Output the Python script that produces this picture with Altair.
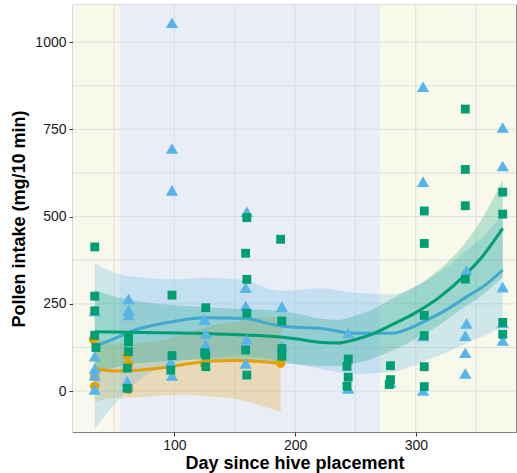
import altair as alt
import pandas as pd

# ---- observations: day since hive placement, pollen intake (mg/10 min) ----
orange_day = [33, 34, 34, 61, 62, 62, 97, 125, 188]
orange_val = [148, 42, 14, 103, 77, 5, 70, 77, 80]

green_day = [34, 34, 34, 34, 35, 62, 62, 62, 61, 61, 98, 98, 97, 126, 125, 126, 126,
             160, 159, 160, 160, 159, 160, 188, 189, 189, 189, 244, 243, 244, 243,
             279, 279, 278, 307, 307, 307, 307, 307, 307, 341, 341, 341, 341,
             372, 372, 372, 372]
green_val = [413, 272, 230, 160, 125, 159, 141, 113, 66, 8, 275, 102, 60, 239, 110, 103, 70,
             497, 395, 320, 223, 118, 46, 435, 201, 122, 100, 92, 71, 40, 14,
             73, 33, 19, 516, 423, 217, 159, 70, 13, 808, 635, 531, 321,
             570, 507, 197, 163]

blue_day = [34, 34, 34, 34, 34, 62, 62, 62, 61, 61, 98, 98, 98, 97, 98, 125, 126, 126,
            160, 159, 159, 160, 159, 189, 189, 244, 244, 279, 306, 306, 306, 306,
            342, 342, 341, 341, 341, 372, 372, 372, 372, 372]
blue_val = [230, 100, 65, 45, 5, 264, 232, 218, 28, 14, 1055, 695, 575, 84, 45, 205, 165, 133,
            514, 296, 244, 148, 79, 242, 129, 167, 8, 25, 872, 600, 158, 2,
            347, 194, 159, 110, 51, 755, 645, 298, 195, 145]

# ---- smoothed trends with 95% bands ----
orange_s_day = [34, 50, 70, 90, 110, 130, 150, 170, 188]
orange_fit = [65, 58, 60, 67, 78, 86, 88, 85, 80]
orange_lo = [-30, -20, -18, -12, -10, -15, -22, -40, -59]
orange_hi = [160, 136, 138, 146, 166, 187, 198, 210, 213]

green_s_day = [34, 60, 90, 120, 150, 180, 200, 220, 235, 250, 265, 280, 300, 320, 340, 355, 372]
green_fit = [170, 169, 167, 166, 162, 157, 150, 140, 138, 148, 165, 190, 225, 270, 330, 385, 466]
green_lo = [50, 75, 85, 90, 88, 82, 77, 72, 72, 80, 95, 115, 150, 190, 240, 275, 327]
green_hi = [290, 263, 249, 242, 236, 232, 223, 208, 204, 216, 235, 265, 300, 350, 420, 495, 605]

blue_s_day = [34, 50, 70, 100, 125, 160, 175, 190, 220, 250, 280, 300, 310, 325, 342, 358, 372]
blue_fit = [128, 150, 178, 200, 210, 208, 196, 186, 180, 166, 166, 188, 205, 232, 270, 305, 347]
blue_lo = [-110, -40, 30, 80, 95, 100, 95, 85, 65, 50, 55, 75, 90, 110, 137, 160, 184]
blue_hi = [366, 340, 326, 320, 325, 316, 297, 287, 295, 282, 277, 301, 320, 354, 403, 450, 510]

# ---- seasonal periods shaded behind the panel ----
period_start = [16, 54.7, 270.2]
period_end = [54.7, 270.2, 383]
period_fill = ["#F8F9EA", "#E8EDF6", "#F8F9EA"]

x_grid = [50, 100, 150, 200, 250, 300, 350]
y_grid = [0, 125, 250, 375, 500, 625, 750, 875, 1000]
x_ticks = [100, 200, 300]
y_ticks = [0, 250, 500, 750, 1000]

ORANGE, GREEN, BLUE = "#E69F00", "#009E73", "#56B4E9"

def smooth_df(d, f, lo, hi):
    return pd.DataFrame({"day": d, "fit": f, "lo": lo, "hi": hi})

sm = {
    "orange": smooth_df(orange_s_day, orange_fit, orange_lo, orange_hi),
    "green": smooth_df(green_s_day, green_fit, green_lo, green_hi),
    "blue": smooth_df(blue_s_day, blue_fit, blue_lo, blue_hi),
}
obs = {
    "orange": pd.DataFrame({"day": orange_day, "val": orange_val}),
    "green": pd.DataFrame({"day": green_day, "val": green_val}),
    "blue": pd.DataFrame({"day": blue_day, "val": blue_val}),
}

xs = alt.Scale(domain=[16, 383], nice=False, zero=False)
ys = alt.Scale(domain=[-117, 1106], nice=False, zero=False)

axis_style = dict(grid=False, domain=False, tickColor="#333333", tickSize=4,
                  labelColor="#1A1A1A", labelFontSize=14, labelFont="Liberation Sans",
                  titleFont="Liberation Sans", titleFontSize=18, titleFontWeight="bold",
                  titleColor="#000000")

periods = alt.Chart(pd.DataFrame({"s": period_start, "e": period_end, "c": period_fill})).mark_rect().encode(
    x=alt.X("s:Q", scale=xs, axis=alt.Axis(values=x_ticks, title="Day since hive placement",
                                           labelPadding=2, titlePadding=2, **axis_style)),
    x2="e:Q",
    y=alt.value(0), y2=alt.value(427),
    color=alt.Color("c:N", scale=None),
)

vgrid = alt.Chart(pd.DataFrame({"g": x_grid})).mark_rule(color="#D8DAE0", strokeWidth=1, opacity=0.8).encode(
    x=alt.X("g:Q", scale=xs), y=alt.value(0), y2=alt.value(427))
hgrid = alt.Chart(pd.DataFrame({"g": y_grid})).mark_rule(color="#D8DAE0", strokeWidth=1, opacity=0.8).encode(
    y=alt.Y("g:Q", scale=ys, axis=alt.Axis(values=y_ticks, format="d", title="Pollen intake (mg/10 min)",
                                           labelPadding=3, titlePadding=6, **axis_style)),
    x=alt.value(0), x2=alt.value(443))

band_fill = {"orange": ORANGE, "green": GREEN, "blue": BLUE}
line_col = {"orange": ORANGE, "green": GREEN, "blue": "#3FA9CF"}
marker = {"orange": ("circle", 90), "green": ("square", 78), "blue": ("triangle-up", 150)}

layers = [periods, vgrid, hgrid]
for g in ["orange", "blue", "green"]:
    layers.append(alt.Chart(sm[g]).mark_area(color=band_fill[g], opacity=0.25, interpolate="monotone").encode(
        x=alt.X("day:Q", scale=xs), y=alt.Y("lo:Q", scale=ys), y2="hi:Q"))
for g in ["orange", "blue", "green"]:
    layers.append(alt.Chart(sm[g]).mark_line(color=line_col[g], strokeWidth=3, interpolate="monotone").encode(
        x=alt.X("day:Q", scale=xs), y=alt.Y("fit:Q", scale=ys)))
for g in ["orange", "blue", "green"]:
    shp, sz = marker[g]
    layers.append(alt.Chart(obs[g]).mark_point(filled=True, opacity=1, strokeWidth=0, color=band_fill[g],
                                               shape=shp, size=sz).encode(
        x=alt.X("day:Q", scale=xs), y=alt.Y("val:Q", scale=ys)))

chart = alt.layer(*layers).properties(
    width=443, height=427,
    autosize=alt.AutoSizeParams(type="none"),
    padding={"left": 73, "top": 5, "right": 1, "bottom": 41},
).configure_view(stroke="#7F7F7F", strokeWidth=1.2)

chart.save("out.html", embed_options={"renderer": "svg", "actions": False})
